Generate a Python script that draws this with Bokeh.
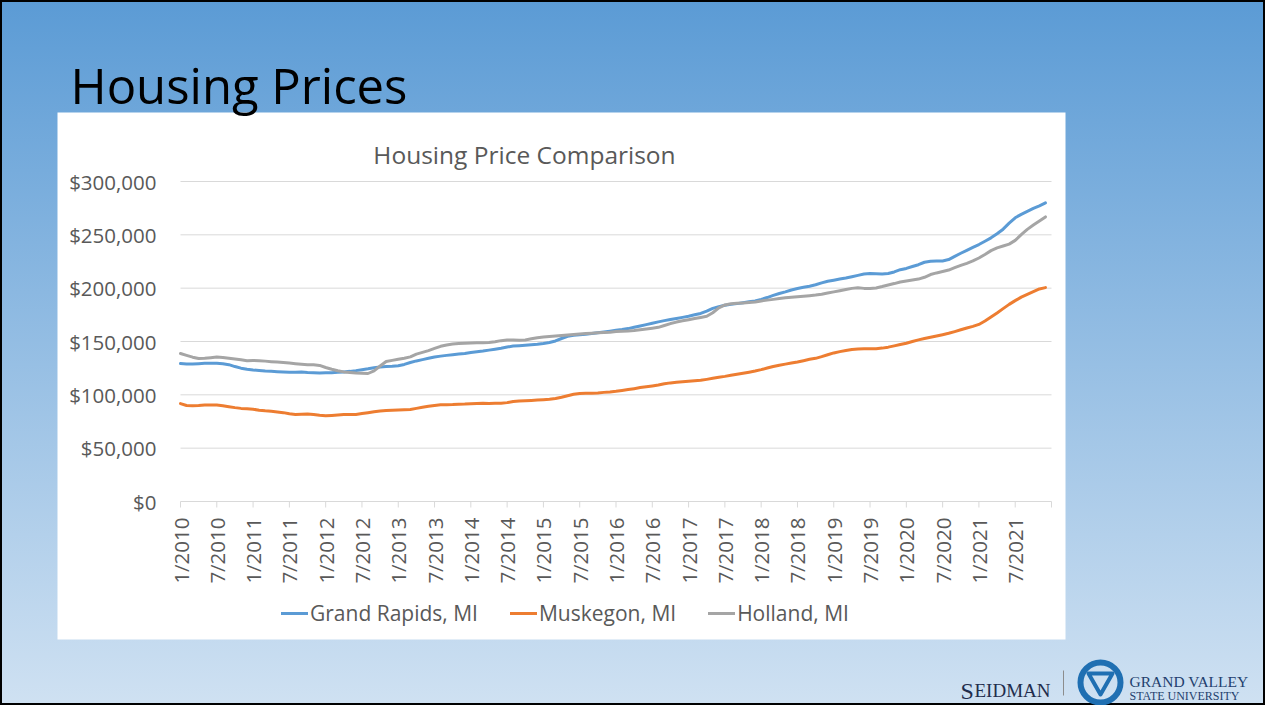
from bokeh.plotting import figure
from bokeh.models import Range1d, Legend, LegendItem
from bokeh.core.properties import value
from bokeh.embed import file_html
from bokeh.resources import INLINE
from math import pi

# Monthly median prices, 1/2010 .. 12/2021
grand_rapids = [
    129300, 129000, 129000, 129200, 129500, 129600, 129600, 129200, 128300, 126500, 125000, 124000,
    123300, 122800, 122300, 122000, 121700, 121400, 121200, 121100, 121300, 120900, 120700, 120500,
    120600, 120800, 121100, 121500, 122000, 122700, 123600, 124400, 125400, 126200, 126500, 126800,
    127300, 128500, 130300, 131800, 133000, 134300, 135500, 136300, 137000, 137600, 138200, 138800,
    139700, 140300, 141000, 141900, 142800, 143700, 144800, 145700, 146100, 146500, 147000, 147400,
    148100, 149000, 150500, 152800, 154800, 155800, 156300, 156900, 157400, 158100, 158900, 159700,
    160500, 161200, 162100, 163300, 164600, 165800, 167100, 168400, 169600, 170700, 171600, 172600,
    173700, 175000, 176300, 178400, 181000, 182700, 184000, 184800, 185500, 186300, 187200, 188000,
    189500, 191200, 193200, 195000, 196500, 198300, 199700, 200800, 201800, 203200, 205000, 206500,
    207500, 208500, 209500, 210700, 212000, 213200, 213800, 213500, 213300, 213700, 215200, 217300,
    218500, 220300, 222000, 224300, 225300, 225400, 225500, 226800, 229800, 232700, 235500, 238300,
    240900, 244000, 247200, 251000, 255300, 261000, 266000, 269200, 272000, 274800, 277200, 280000,
]
muskegon = [
    91800, 90000, 89700, 90000, 90500, 90400, 90500, 89800, 88900, 88000, 87300, 86900,
    86500, 85600, 85000, 84600, 84000, 83300, 82200, 81600, 81800, 82100, 81600, 80800,
    80300, 80700, 81100, 81500, 81500, 81600, 82400, 83300, 84200, 84800, 85200, 85500,
    85800, 86000, 86300, 87300, 88300, 89300, 90100, 90700, 90800, 90900, 91200, 91300,
    91600, 91900, 92200, 91800, 92000, 92100, 92700, 93700, 94300, 94500, 94800, 95100,
    95500, 95900, 96600, 97800, 99200, 100500, 101200, 101400, 101500, 101800, 102300, 102700,
    103300, 104100, 104900, 105800, 106800, 107500, 108300, 109200, 110300, 111200, 111800, 112300,
    112700, 113100, 113600, 114500, 115500, 116500, 117300, 118300, 119200, 120200, 121200, 122300,
    123600, 125100, 126600, 127800, 128800, 129800, 130800, 132000, 133300, 134200, 135800, 137600,
    139300, 140500, 141500, 142500, 143000, 143200, 143300, 143300, 143800, 144700, 145900, 147200,
    148400, 150000, 151500, 152800, 154000, 155200, 156400, 157700, 159300, 161000, 162700, 164200,
    166000, 169200, 173000, 176700, 180800, 184800, 188300, 191600, 194200, 196700, 199300, 200500,
]
holland = [
    138700, 137000, 135300, 134000, 134200, 134800, 135500, 135000, 134300, 133600, 132800, 132000,
    132200, 132000, 131600, 131100, 130700, 130300, 129800, 129200, 128700, 128300, 128100, 127600,
    125600, 124000, 122600, 121500, 121000, 120500, 120200, 120000, 122500, 127000, 131200, 132300,
    133300, 134300, 135600, 138200, 139800, 141500, 143500, 145500, 146800, 147600, 148200, 148400,
    148600, 148800, 148900, 149000, 149800, 150800, 151500, 151400, 151100, 151500, 152500, 153500,
    154200, 154700, 155200, 155700, 156200, 156600, 157000, 157400, 157800, 158300, 158500, 158600,
    159300, 159500, 159800, 160300, 161000, 161800, 162500, 163300, 165000, 166800, 168200, 169400,
    170400, 171500, 172500, 173600, 177000, 181500, 184300, 185300, 185800, 186200, 186600, 187000,
    188000, 188800, 189500, 190300, 191000, 191500, 192000, 192400, 192900, 193500, 194300, 195400,
    196500, 197600, 198700, 199800, 200300, 199800, 199600, 200200, 201500, 203000, 204300, 205800,
    206800, 207600, 208500, 210200, 212800, 214300, 215600, 217000, 219200, 221300, 223300, 225500,
    228300, 231600, 235200, 237800, 239500, 241300, 244800, 250200, 255100, 259200, 263000, 266800,
]
series_names = ["Grand Rapids, MI", "Muskegon, MI", "Holland, MI"]
series_colors = ["#5b9bd5", "#ed7d31", "#a5a5a5"]
tick_labels = [
    "1/2010", "7/2010", "1/2011", "7/2011", "1/2012", "7/2012", "1/2013", "7/2013",
    "1/2014", "7/2014", "1/2015", "7/2015", "1/2016", "7/2016", "1/2017", "7/2017",
    "1/2018", "7/2018", "1/2019", "7/2019", "1/2020", "7/2020", "1/2021", "7/2021",
]
y_ticks = [0, 50000, 100000, 150000, 200000, 250000, 300000]
y_tick_labels = ["$0", "$50,000", "$100,000", "$150,000", "$200,000", "$250,000", "$300,000"]
slide_title = "Housing Prices"
chart_title = "Housing Price Comparison"

n_months = len(grand_rapids)
months = list(range(n_months))
tick_pos = [6 * i for i in range(len(tick_labels) + 1)]
x_end = tick_pos[-1]
y_end = y_ticks[-1]

FONT = "Open Sans"
TXT = "#595959"
GRID = "#d9d9d9"

# ---- page geometry (screen pixels, y downwards) ----
W, H = 1265, 705
FL, FR, FT, FB = 180, 1051, 181, 501     # plot area of the chart

# data ranges chosen so that the chart's plot area lands on FL..FR / FT..FB
px_per_month = (FR - FL) / x_end
px_per_dollar = (FB - FT) / y_end
month_range = Range1d(-FL / px_per_month, x_end + (W - FR) / px_per_month)
price_range = Range1d(-(H - FB) / px_per_dollar, y_end + FT / px_per_dollar)

p = figure(width=W, height=H, output_backend="svg", toolbar_location=None,
           x_range=Range1d(0, W), y_range=Range1d(H, 0),
           min_border=0, min_border_left=0, min_border_right=0, min_border_top=0, min_border_bottom=0)
p.extra_x_ranges = {"month": month_range}
p.extra_y_ranges = {"price": price_range}
p.title.visible = False
p.axis.visible = False
p.grid.visible = False
p.outline_line_color = None
p.border_fill_color = None
p.background_fill_color = None
p.styles = {
    "background": "linear-gradient(to bottom, #5b9bd5 0%, #cfe1f2 100%)",
    "box-shadow": "inset 0 0 0 2px #000000",
}

# white chart panel
p.quad(left=[57], right=[1065], top=[112], bottom=[639], fill_color="#ffffff", line_color=None)

# titles
p.text(x=[70], y=[84], text=[slide_title], text_font=value(FONT), text_font_size="49px",
       text_color="#000000", text_baseline="alphabetic", text_align="left")
p.text(x=[524], y=[154], text=[chart_title], text_font=value(FONT), text_font_size="24.5px",
       text_color=TXT, text_baseline="alphabetic", text_align="center")

# value grid, x axis line and ticks
p.segment(x0=[0] * len(y_ticks), x1=[x_end] * len(y_ticks), y0=y_ticks, y1=y_ticks,
          x_range_name="month", y_range_name="price", line_color=GRID, line_width=1)
tick_len = 6 / px_per_dollar
p.segment(x0=tick_pos, x1=tick_pos, y0=[0] * len(tick_pos), y1=[-tick_len] * len(tick_pos),
          x_range_name="month", y_range_name="price", line_color=GRID, line_width=1)

# tick labels
p.text(x=[0] * len(y_ticks), y=y_ticks, text=y_tick_labels, x_offset=-24,
       x_range_name="month", y_range_name="price", text_font=value(FONT), text_font_size="20.5px",
       text_color=TXT, text_align="right", text_baseline="middle")
p.text(x=tick_pos[:-1], y=[0] * len(tick_labels), text=tick_labels, y_offset=16, angle=pi / 2,
       x_range_name="month", y_range_name="price", text_font=value(FONT), text_font_size="20.5px",
       text_color=TXT, text_align="right", text_baseline="middle")

# series
items = []
for name, vals, col in zip(series_names, [grand_rapids, muskegon, holland], series_colors):
    r = p.line(months, vals, x_range_name="month", y_range_name="price",
               line_color=col, line_width=3, line_join="round", line_cap="round")
    items.append(LegendItem(label=name, renderers=[r]))

legend = Legend(items=items, location=(281, 78), orientation="horizontal",
                glyph_width=27, glyph_height=20, label_standoff=2, spacing=32,
                padding=0, margin=0, border_line_color=None, background_fill_alpha=0,
                label_text_font=FONT, label_text_font_size="21px", label_text_color=TXT)
p.add_layout(legend, "center")

# logo
SERIF = value("Liberation Serif")
p.text(x=[960], y=[690], text=["S"], text_font=SERIF, text_font_size="24px",
       text_color="#1f2d4d", text_baseline="alphabetic")
p.text(x=[974], y=[690], text=["EIDMAN"], text_font=SERIF, text_font_size="19px",
       text_color="#1f2d4d", text_baseline="alphabetic")
p.segment(x0=[1063], y0=[670], x1=[1063], y1=[695], line_color="#8c8c8c", line_width=1)
p.circle(x=[1100], y=[682], radius=20, fill_color=None, line_color="#1f6fb2", line_width=6)
p.patch(x=[1088, 1112, 1100], y=[673, 673, 694], fill_color=None, line_color="#1f6fb2",
        line_width=4, line_join="round")
p.text(x=[1129], y=[681], text=["GRAND VALLEY"], text_font=SERIF, text_font_size="15.5px",
       text_color="#1f3f6e", text_baseline="alphabetic")
p.text(x=[1129], y=[695], text=["STATE UNIVERSITY"], text_font=SERIF, text_font_size="12px",
       text_color="#1f3f6e", text_baseline="alphabetic")

open("out.html", "w").write(file_html(p, INLINE))
